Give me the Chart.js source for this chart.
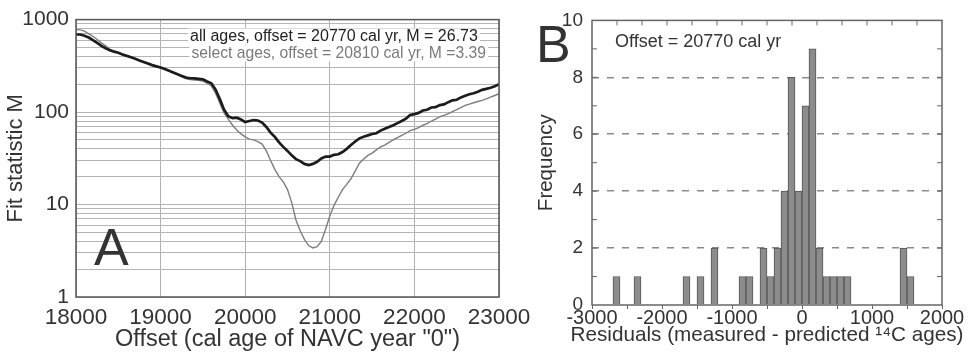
<!DOCTYPE html>
<html>
<head>
<meta charset="utf-8">
<script src="https://cdn.jsdelivr.net/npm/chart.js@4.4.1/dist/chart.umd.min.js"></script>
<style>
  html, body { margin: 0; padding: 0; background: #fff; }
  #wrap { position: relative; width: 973px; height: 360px; overflow: hidden; background: #fff; }
  #fitChart { position: absolute; left: 0; top: 0; }
  #residualChart { position: absolute; left: 500px; top: 0; }
</style>
</head>
<body>
<div id="wrap">
  <canvas id="fitChart" width="540" height="360"></canvas>
  <canvas id="residualChart" width="473" height="360"></canvas>
</div>
<script>
// Panel A: fit statistic M against the offset, 50 yr steps
const offsetYears = [
  18000, 18050, 18100, 18150, 18200, 18250, 18300, 18350, 18400, 18450,
  18500, 18550, 18600, 18650, 18700, 18750, 18800, 18850, 18900, 18950,
  19000, 19050, 19100, 19150, 19200, 19250, 19300, 19350, 19400, 19450,
  19500, 19550, 19600, 19650, 19700, 19750, 19800, 19850, 19900, 19950,
  20000, 20050, 20100, 20150, 20200, 20250, 20300, 20350, 20400, 20450,
  20500, 20550, 20600, 20650, 20700, 20750, 20800, 20850, 20900, 20950,
  21000, 21050, 21100, 21150, 21200, 21250, 21300, 21350, 21400, 21450,
  21500, 21550, 21600, 21650, 21700, 21750, 21800, 21850, 21900, 21950,
  22000, 22050, 22100, 22150, 22200, 22250, 22300, 22350, 22400, 22450,
  22500, 22550, 22600, 22650, 22700, 22750, 22800, 22850, 22900, 22950,
  23000
]

const fitAllAges = [
  690, 690, 670, 640, 600, 560, 520, 490, 465, 450,
  438, 420, 405, 392, 378, 362, 348, 335, 322, 312,
  303, 292, 280, 268, 257, 246, 236, 232, 231, 229,
  226, 214, 205, 175, 138, 106, 90, 86, 87, 83,
  78, 80, 82, 81, 77, 69, 60, 54, 47, 42,
  38, 34, 31, 29.5, 27.5, 26.73, 27.5, 29, 31.5, 33,
  33, 34.5, 35, 37, 40, 44, 48, 52, 54, 56,
  58, 59, 63, 66, 69, 72, 76, 80, 85, 93,
  95, 98, 104, 106, 112, 113, 119, 121, 128, 134,
  136, 144, 150, 156, 160, 166, 174, 178, 183, 190,
  200
]

const fitSelectAges = [
  780, 775, 750, 700, 660, 610, 560, 520, 480, 455,
  438, 420, 405, 390, 375, 360, 346, 333, 320, 310,
  300, 290, 278, 266, 254, 242, 230, 224, 222, 220,
  216, 205, 192, 160, 125, 98, 84, 72, 64, 58,
  54, 51, 50, 48, 45, 38, 30, 24, 20, 17.6,
  14.5, 10.5, 6.8, 5.2, 4.2, 3.6, 3.39, 3.5, 4.0, 5.4,
  7.5, 9.8, 12, 14.5, 16.5, 19, 23, 28, 31, 34,
  36, 39, 42, 44, 47, 50, 53, 56, 59, 63,
  65, 68, 72, 75, 80, 84, 89, 92, 96, 101,
  106, 112, 118, 122, 126, 130, 134, 139, 145, 151,
  158
]

const fitLegend = [
  'all ages, offset = 20770 cal yr, M = 26.73',
  'select ages, offset = 20810 cal yr, M =3.39'
]
const fitDecades = [1, 10, 100, 1000]

// Panel B: residual histogram, 100 yr bins (bin centres)
const residualBins = [-2650, -2350, -1650, -1450, -1250, -850, -750, -550, -450, -350, -250,
  -150, -50, 50, 150, 250, 350, 450, 550, 650, 1450, 1550]
const residualCounts = [1, 1, 1, 1, 2, 1, 1, 2, 1, 2, 4,
  8, 4, 7, 9, 2, 1, 1, 1, 1, 2, 1]
const residualNote = 'Offset = 20770 cal yr'
const residualTitle = 'Residuals (measured - predicted ¹⁴C ages)'

const fontFamily = '"Liberation Sans", Arial, Helvetica, sans-serif'
Chart.defaults.font.family = fontFamily
Chart.defaults.color = '#333'

// frame, legend text and panel letter for A
const fitPanelDecor = {
  id: 'fitPanelDecor',
  afterDraw(chart) {
    const { ctx, chartArea: a } = chart
    ctx.save()
    ctx.strokeStyle = '#555'
    ctx.lineWidth = 1.5
    ctx.strokeRect(a.left, a.top, a.right - a.left, a.bottom - a.top)

    ctx.textBaseline = 'middle'
    fitLegend.forEach((text, i) => {
      ctx.font = (i === 0 ? '16px ' : '15.7px ') + fontFamily
      const x = 190 + i * 1.5
      const y = 36.5 + i * 16.8
      const w = ctx.measureText(text).width
      ctx.fillStyle = '#fff'
      ctx.fillRect(x - 2, y - 8, w + 4, 16)
      ctx.fillStyle = i === 0 ? '#222' : '#7a7a7a'
      ctx.fillText(text, x, y)
    })

    ctx.font = '52px ' + fontFamily
    ctx.fillStyle = '#333'
    ctx.textBaseline = 'alphabetic'
    ctx.fillText('A', 94, 265)
    ctx.restore()
  }
}

// frame, inward ticks, texts and panel letter for B
const residualPanelDecor = {
  id: 'residualPanelDecor',
  afterDraw(chart) {
    const { ctx, chartArea: a, scales: { x, y } } = chart
    ctx.save()
    ctx.strokeStyle = '#666'
    ctx.lineWidth = 1.5
    ctx.strokeRect(a.left, a.top, a.right - a.left, a.bottom - a.top)

    ctx.lineWidth = 1
    ctx.beginPath()
    for (let v = 1; v < 10; v++) {
      const py = y.getPixelForValue(v)
      ctx.moveTo(a.left, py)
      ctx.lineTo(a.left + 5, py)
      ctx.moveTo(a.right, py)
      ctx.lineTo(a.right - 5, py)
    }
    for (let i = 1; i < 14; i++) {
      const px = x.getPixelForValue(x.min + i * (x.max - x.min) / 14)
      ctx.moveTo(px, a.top)
      ctx.lineTo(px, a.top + 5)
    }
    ctx.stroke()

    ctx.fillStyle = '#333'
    ctx.font = '18px ' + fontFamily
    ctx.textBaseline = 'middle'
    ctx.fillText(residualNote, 115, 42)

    // axis title is wider than the plot, so it is drawn here unclipped
    ctx.font = '20.7px ' + fontFamily
    ctx.textAlign = 'center'
    ctx.fillText(residualTitle, (a.left + a.right) / 2, 335)

    ctx.font = '52px ' + fontFamily
    ctx.textAlign = 'left'
    ctx.textBaseline = 'alphabetic'
    ctx.fillText('B', 36, 62)
    ctx.restore()
  }
}

new Chart(document.getElementById('fitChart'), {
  type: 'line',
  data: {
    datasets: [
      {
        label: 'all ages',
        data: offsetYears.map((x, i) => ({ x, y: fitAllAges[i] })),
        borderColor: '#1c1c1c',
        borderWidth: 2.7,
        order: 0
      },
      {
        label: 'select ages',
        data: offsetYears.map((x, i) => ({ x, y: fitSelectAges[i] })),
        borderColor: '#7d7d7d',
        borderWidth: 1.4,
        order: 1
      }
    ]
  },
  options: {
    responsive: false,
    animation: false,
    layout: { padding: { left: 0, top: 15, right: 41, bottom: 0 } },
    elements: { point: { radius: 0 }, line: { tension: 0 } },
    plugins: { legend: { display: false }, tooltip: { enabled: false } },
    scales: {
      x: {
        type: 'linear',
        min: 18000,
        max: 23000,
        ticks: { stepSize: 1000, maxRotation: 0, font: { size: 22.5 }, padding: 7, callback: v => String(v) },
        grid: { color: '#b0b0b0', drawTicks: false },
        border: { display: false },
        title: {
          display: true,
          text: 'Offset (cal age of NAVC year "0")',
          font: { size: 23.5 },
          padding: { top: 0, bottom: 6 }
        },
        afterFit: s => { s.height = 63 }
      },
      y: {
        type: 'logarithmic',
        min: 1,
        max: 1000,
        afterBuildTicks: s => {
          const ticks = []
          fitDecades.slice(0, 3).forEach(d => {
            for (let k = 1; k < 10; k++) ticks.push({ value: k * d })
          })
          ticks.push({ value: 1000 })
          s.ticks = ticks
        },
        ticks: {
          autoSkip: false,
          font: { size: 21 },
          padding: 7,
          callback: v => fitDecades.includes(v) ? String(v) : ''
        },
        grid: { color: '#b5b5b5', drawTicks: false },
        border: { display: false },
        title: {
          display: true,
          text: 'Fit statistic M',
          font: { size: 22 },
          padding: { top: 3, bottom: 0 }
        },
        afterFit: s => { s.width = 76 }
      }
    }
  },
  plugins: [fitPanelDecor]
})

new Chart(document.getElementById('residualChart'), {
  type: 'bar',
  data: {
    datasets: [{
      label: 'Frequency',
      data: residualBins.map((x, i) => ({ x, y: residualCounts[i] })),
      backgroundColor: '#8c8c8c',
      borderColor: '#555',
      borderWidth: 1,
      barPercentage: 1,
      categoryPercentage: 1
    }]
  },
  options: {
    responsive: false,
    animation: false,
    layout: { padding: { left: 0, top: 13, right: 31, bottom: 0 } },
    plugins: { legend: { display: false }, tooltip: { enabled: false } },
    scales: {
      x: {
        type: 'linear',
        offset: false,
        min: -3000,
        max: 2000,
        ticks: {
          stepSize: 500,
          autoSkip: false,
          maxRotation: 0,
          font: { size: 20 },
          padding: -3,
          callback: v => v % 1000 === 0 ? String(v) : ''
        },
        grid: { offset: false, drawOnChartArea: false, drawTicks: true, tickLength: 4, color: '#666' },
        border: { display: false },
        afterFit: s => { s.height = 55 }
      },
      y: {
        min: 0,
        max: 10,
        ticks: { stepSize: 2, font: { size: 19 }, padding: 9 },
        grid: {
          drawTicks: false,
          lineWidth: 1.5,
          color: c => (c.tick.value > 0 && c.tick.value < 10) ? '#8a8a8a' : 'rgba(0,0,0,0)'
        },
        border: { display: false, dash: [7, 8] },
        title: {
          display: true,
          text: 'Frequency',
          font: { size: 20.5 },
          padding: { top: 34, bottom: 0 }
        },
        afterFit: s => { s.width = 92 }
      }
    }
  },
  plugins: [residualPanelDecor]
})
</script>
</body>
</html>
